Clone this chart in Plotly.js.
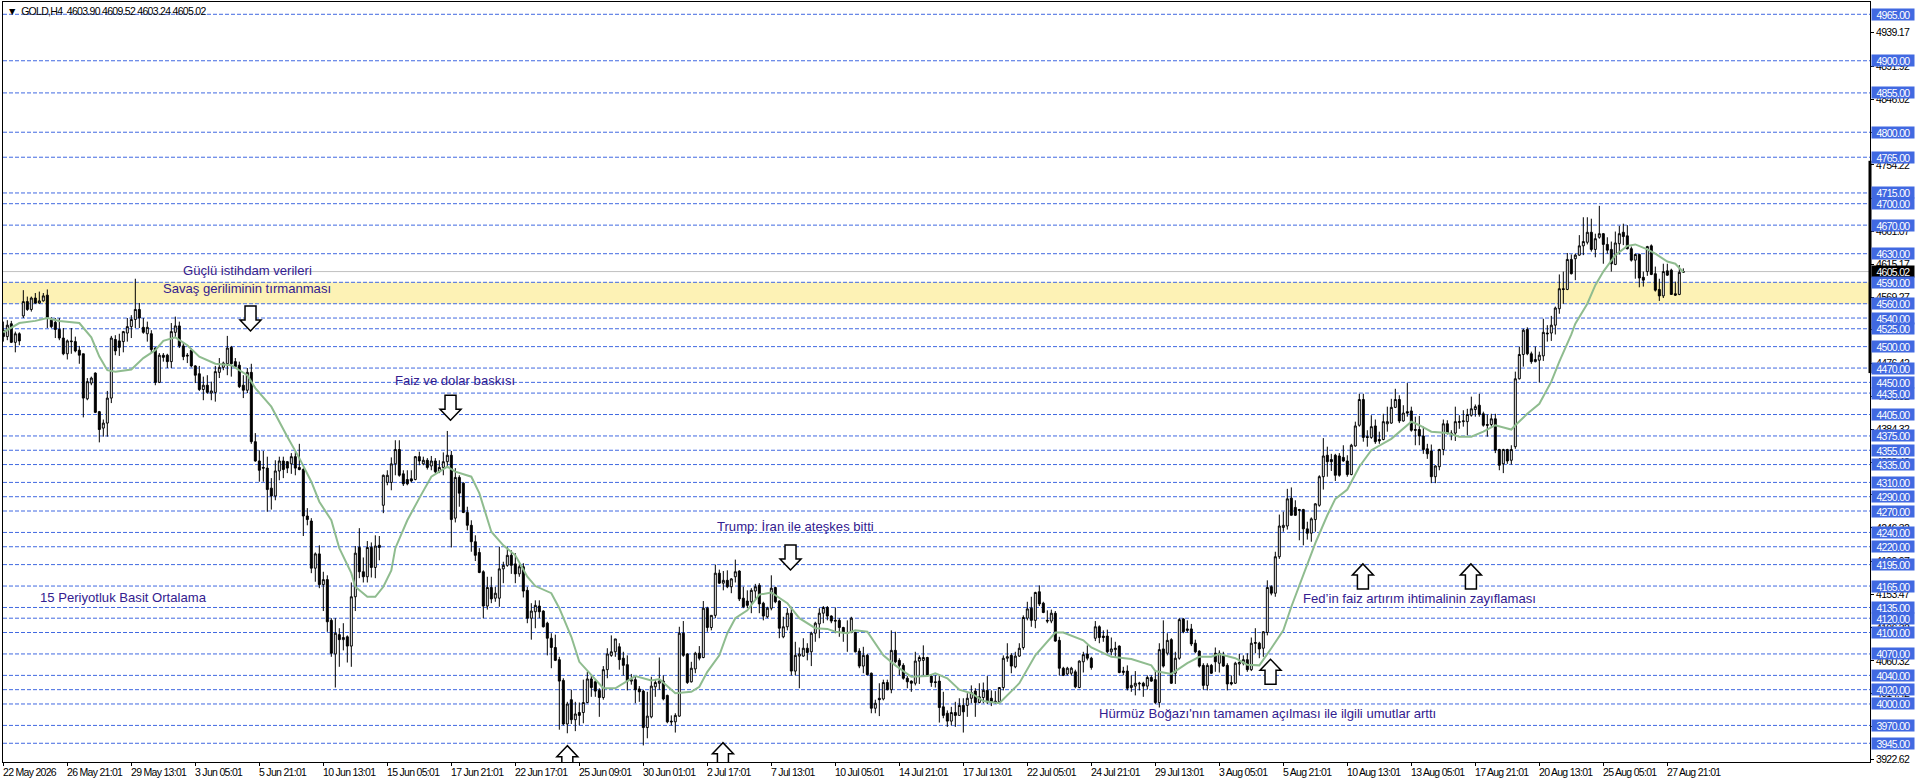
<!DOCTYPE html>
<html>
<head>
<meta charset="utf-8">
<script src="https://cdn.plot.ly/plotly-3.0.1.min.js"></script>
<style>
html,body{margin:0;padding:0;background:#fff;overflow:hidden}
/* the platform's axis font is narrow, squeeze ours to the same width */
#chart .ytick text, #chart .annotation-text{letter-spacing:-0.7px}
#chart .annotation[data-index="0"] .annotation-text,
#chart .annotation[data-index="1"] .annotation-text,
#chart .annotation[data-index="2"] .annotation-text,
#chart .annotation[data-index="3"] .annotation-text,
#chart .annotation[data-index="4"] .annotation-text,
#chart .annotation[data-index="5"] .annotation-text,
#chart .annotation[data-index="6"] .annotation-text{letter-spacing:0}
</style>
</head>
<body>
<div id="chart" style="width:1916px;height:783px"></div>
<script>
const opens = [
4523,4514,4532,4506,4518,4543,4563,4552,4568,4561,4564,4572,4537,4534,4524,4512,4490,4508,4507,4495,
4490,4427,4449,4463,4409,4386,4393,4428,4510,4508,4507,4519,4528,4538,4552,4527,4518,4518,4498,4450,
4488,4488,4479,4520,4529,4501,4488,4495,4473,4462,4440,4446,4435,4436,4464,4471,4476,4499,4479,4474,
4446,4439,4464,4367,4340,4331,4330,4302,4291,4326,4340,4339,4336,4346,4331,4328,4263,4256,4190,4210,
4167,4174,4117,4070,4097,4090,4094,4081,4150,4219,4185,4178,4219,4191,4222,4278,4310,4310,4336,4356,
4322,4314,4315,4314,4346,4336,4341,4333,4340,4325,4331,4339,4348,4260,4317,4309,4268,4250,4227,4212,
4185,4137,4163,4148,4148,4189,4194,4208,4196,4182,4192,4159,4120,4129,4137,4130,4113,4092,4079,4062,
4033,3972,4006,3978,3988,3988,4002,4035,4031,4019,4009,4048,4068,4073,4080,4064,4055,4032,4034,4021,
4018,3967,3982,4024,4029,4032,4012,3976,3975,3983,4099,4070,4031,4049,4071,4065,4134,4107,4124,4183,
4169,4173,4164,4178,4186,4148,4144,4143,4158,4166,4141,4122,4134,4163,4144,4094,4108,4127,4046,4067,
4067,4078,4073,4099,4112,4127,4135,4123,4117,4117,4107,4099,4100,4100,4074,4053,4068,4043,3994,4008,
4007,4030,4020,4075,4061,4054,4036,4032,4029,4060,4061,4065,4039,4031,4032,3996,3987,3976,3988,3984,
3998,3998,4008,4018,4002,4009,4019,4008,4004,4003,4023,4064,4068,4052,4067,4079,4120,4134,4117,4157,
4141,4117,4116,4127,4089,4050,4042,4043,4045,4023,4059,4070,4064,4092,4108,4095,4095,4073,4076,4081,
4044,4046,4023,4025,4028,4029,4025,4037,4034,4002,4077,4071,4090,4043,4064,4119,4105,4105,4085,4074,
4054,4026,4054,4071,4057,4067,4054,4030,4029,4056,4057,4062,4048,4086,4085,4078,4100,4164,4155,4206,
4247,4249,4288,4275,4272,4272,4245,4239,4258,4278,4318,4348,4342,4348,4347,4345,4340,4321,4361,4390,
4426,4374,4373,4389,4370,4370,4392,4393,4415,4426,4396,4409,4410,4384,4384,4375,4357,4354,4318,4332,
4356,4392,4379,4379,4394,4395,4395,4404,4412,4418,4406,4391,4391,4399,4356,4336,4356,4341,4360,4455,
4489,4524,4490,4479,4481,4487,4519,4519,4530,4553,4581,4580,4622,4623,4628,4641,4646,4660,4636,4653,
4658,4643,4636,4615,4644,4660,4655,4637,4621,4629,4597,4605,4641,4602,4580,4571,4606,4607,4574,4573,
4603.90];
const highs = [
4535,4537,4536,4521,4520,4579,4570,4570,4575,4577,4575,4580,4541,4540,4540,4526,4510,4526,4514,4501,
4490,4456,4458,4464,4410,4398,4438,4515,4516,4518,4522,4540,4544,4595,4561,4540,4535,4523,4499,4491,
4491,4490,4533,4542,4535,4505,4491,4498,4474,4473,4458,4460,4451,4473,4484,4479,4515,4501,4484,4479,
4460,4470,4476,4379,4355,4354,4346,4316,4341,4346,4346,4340,4351,4353,4364,4330,4274,4260,4212,4222,
4185,4180,4120,4120,4106,4113,4096,4170,4221,4246,4205,4228,4226,4236,4235,4321,4327,4345,4369,4369,
4327,4327,4327,4347,4353,4346,4344,4347,4344,4341,4352,4382,4354,4330,4320,4310,4276,4257,4236,4218,
4187,4178,4178,4164,4220,4199,4220,4215,4211,4196,4197,4164,4141,4145,4145,4131,4115,4099,4097,4066,
4036,4003,4020,4003,4002,4034,4045,4040,4034,4022,4053,4078,4096,4091,4085,4073,4068,4042,4039,4025,
4020,4017,4038,4034,4065,4040,4013,3984,3987,4108,4116,4071,4059,4073,4081,4144,4136,4124,4195,4188,
4186,4187,4176,4202,4187,4164,4159,4162,4168,4169,4143,4136,4180,4164,4145,4122,4134,4136,4087,4079,
4092,4085,4101,4115,4134,4137,4137,4124,4135,4120,4108,4117,4122,4101,4078,4080,4070,4044,4006,4029,
4034,4034,4103,4101,4064,4057,4039,4033,4073,4068,4082,4066,4040,4040,4040,4017,3991,3996,4003,4008,
4008,4015,4026,4022,4029,4030,4039,4019,4018,4023,4068,4085,4071,4073,4085,4124,4143,4150,4157,4166,
4143,4131,4132,4130,4094,4052,4052,4052,4048,4061,4073,4082,4066,4116,4110,4103,4104,4093,4087,4082,
4052,4054,4040,4046,4031,4031,4040,4040,4045,4085,4117,4099,4092,4073,4120,4120,4117,4112,4090,4075,
4057,4057,4056,4079,4075,4073,4057,4040,4059,4070,4068,4071,4093,4106,4087,4102,4173,4166,4213,4265,
4269,4301,4303,4285,4273,4273,4255,4261,4281,4320,4372,4360,4350,4350,4351,4362,4348,4364,4395,4434,
4434,4383,4404,4398,4381,4406,4416,4427,4441,4432,4418,4449,4416,4402,4403,4388,4364,4363,4334,4357,
4398,4397,4383,4416,4404,4411,4413,4430,4419,4434,4409,4405,4406,4406,4357,4357,4357,4362,4465,4500,
4525,4527,4493,4500,4493,4539,4530,4543,4556,4601,4605,4631,4629,4630,4656,4681,4681,4679,4658,4697,
4659,4653,4647,4661,4669,4672,4670,4640,4630,4630,4605,4641,4643,4612,4595,4616,4616,4609,4591,4614,
4609.52];
const lows = [
4507,4509,4505,4492,4502,4540,4550,4549,4560,4560,4563,4526,4526,4512,4509,4488,4482,4490,4492,4476,
4401,4425,4446,4407,4366,4374,4374,4421,4488,4487,4492,4507,4512,4526,4526,4518,4507,4491,4446,4449,
4479,4470,4470,4512,4498,4481,4477,4471,4449,4438,4425,4434,4425,4423,4456,4467,4460,4458,4471,4442,
4428,4435,4364,4339,4311,4311,4269,4272,4285,4313,4316,4323,4322,4320,4327,4235,4250,4183,4171,4162,
4130,4101,4066,4023,4052,4075,4058,4052,4130,4176,4170,4170,4177,4176,4201,4267,4306,4299,4320,4318,
4305,4306,4310,4313,4334,4334,4328,4327,4323,4323,4320,4330,4219,4254,4276,4267,4243,4213,4200,4183,
4120,4132,4141,4143,4136,4169,4192,4182,4169,4178,4149,4113,4090,4106,4120,4107,4068,4050,4060,3964,
3970,3959,3972,3962,3970,3973,4001,4010,4010,3982,4006,4036,4066,4066,4048,4040,4019,4027,4001,4003,
3942,3952,3980,4010,4020,4005,3973,3970,3960,3982,4066,4028,4030,4043,4061,4064,4101,4103,4120,4168,
4159,4162,4155,4170,4144,4134,4134,4127,4145,4127,4117,4120,4131,4141,4092,4092,4103,4040,4040,4022,
4066,4061,4053,4087,4092,4113,4117,4113,4099,4094,4087,4073,4099,4072,4050,4043,4040,3987,3987,3983,
4005,4019,4015,4057,4040,4034,4022,4017,4026,4028,4040,4038,4024,4023,3974,3980,3968,3970,3968,3984,
3960,3982,4001,3982,4001,4001,4000,3997,4000,4001,4019,4059,4043,4050,4066,4076,4117,4108,4106,4137,
4127,4113,4113,4087,4040,4039,4040,4040,4022,4022,4044,4061,4048,4088,4085,4087,4071,4068,4066,4043,
4040,4019,4017,4012,4019,4010,4020,4031,4000,3995,4051,4068,4028,4028,4062,4099,4100,4081,4071,4051,
4020,4019,4042,4045,4044,4052,4019,4026,4028,4040,4054,4045,4046,4071,4064,4066,4096,4152,4150,4203,
4241,4244,4264,4263,4229,4222,4230,4227,4241,4276,4300,4318,4326,4312,4318,4339,4318,4320,4360,4388,
4367,4360,4371,4364,4364,4369,4381,4392,4414,4393,4395,4402,4381,4362,4362,4350,4343,4309,4309,4327,
4348,4377,4369,4368,4385,4388,4376,4402,4402,4402,4388,4374,4388,4351,4327,4323,4336,4335,4357,4454,
4472,4488,4476,4478,4450,4480,4507,4508,4517,4546,4560,4579,4601,4593,4627,4628,4643,4633,4625,4651,
4616,4630,4605,4614,4629,4642,4636,4619,4595,4583,4584,4599,4600,4577,4564,4568,4599,4573,4571,4572,
4603.24];
const closes = [
4514,4530,4506,4518,4508,4563,4552,4568,4561,4564,4571,4541,4528,4524,4512,4490,4508,4507,4494,4488,
4428,4451,4456,4408,4384,4393,4428,4512,4494,4499,4521,4528,4538,4552,4540,4520,4527,4496,4450,4488,
4485,4479,4521,4529,4501,4486,4487,4473,4460,4440,4446,4436,4438,4465,4471,4477,4498,4476,4472,4444,
4439,4464,4367,4340,4327,4330,4300,4291,4326,4340,4328,4330,4346,4330,4328,4263,4258,4190,4210,4167,
4174,4115,4071,4099,4090,4093,4081,4150,4211,4185,4178,4219,4191,4221,4219,4320,4320,4336,4356,4320,
4308,4308,4312,4346,4340,4341,4331,4340,4325,4331,4339,4348,4258,4317,4295,4268,4250,4227,4208,4184,
4137,4163,4147,4155,4189,4194,4208,4194,4182,4192,4158,4120,4130,4138,4129,4108,4092,4079,4061,4032,
3972,4000,3978,3986,3984,4002,4035,4023,4018,4009,4048,4070,4073,4091,4062,4054,4032,4034,4020,4017,
3967,3983,4025,4030,4032,4007,3975,3975,3984,4099,4068,4030,4050,4071,4064,4134,4107,4124,4183,4169,
4173,4164,4175,4185,4147,4136,4138,4159,4164,4140,4123,4134,4162,4143,4106,4108,4127,4046,4068,4070,
4078,4072,4099,4113,4127,4135,4123,4116,4116,4107,4100,4100,4120,4073,4053,4068,4041,3994,4001,4006,
4030,4020,4075,4059,4054,4036,4031,4029,4060,4065,4065,4039,4030,4030,3995,3984,3976,3988,3984,3998,
3989,4008,4016,4002,4010,4019,4003,4003,4002,4023,4064,4066,4053,4067,4078,4121,4133,4117,4156,4140,
4128,4116,4127,4088,4050,4040,4050,4050,4024,4060,4069,4064,4051,4108,4093,4093,4073,4077,4078,4044,
4046,4022,4026,4029,4029,4025,4037,4032,4002,4076,4053,4089,4029,4064,4118,4101,4103,4084,4073,4053,
4026,4054,4043,4059,4071,4053,4028,4028,4057,4058,4062,4048,4085,4085,4077,4101,4163,4155,4206,4249,
4250,4287,4264,4264,4271,4245,4239,4259,4280,4318,4347,4339,4339,4320,4320,4340,4321,4362,4389,4426,
4373,4373,4388,4367,4368,4395,4395,4415,4426,4396,4407,4407,4383,4383,4375,4356,4350,4318,4333,4356,
4392,4379,4378,4395,4395,4396,4405,4413,4416,4405,4390,4390,4399,4355,4334,4356,4340,4356,4455,4489,
4523,4490,4479,4482,4488,4520,4518,4530,4554,4581,4580,4622,4602,4628,4641,4647,4660,4636,4651,4658,
4643,4635,4616,4645,4658,4654,4637,4621,4629,4596,4593,4640,4601,4579,4571,4605,4600,4573,4572,4604,
4605.02];

// 15 period simple average, every few bars
const maBars = [0,4,8,11,14,19,22,24,26,28,32,35,38,40,43,46,49,53,57,61,63,67,71,74,77,79,82,84,87,88,91,93,95,97,98,101,104,107,111,113,117,119,
122,125,128,131,133,137,139,142,144,147,150,153,158,162,164,168,172,174,176,179,181,183,186,189,192,196,199,203,206,208,211,213,216,220,223,227,231,233,236,239,
242,245,249,254,258,263,265,270,272,277,282,287,288,292,296,299,302,304,308,311,314,317,320,322,326,328,331,333,336,339,342,347,352,354,357,359,
361,364,367,370,373,377,378,381,384,387,389,392,393,396,398,400,403,406,408,411,413,416,418,420];
const maValues = [4520,4533,4536,4540,4536,4533,4513,4486,4467,4465,4468,4484,4495,4508,4513,4502,4486,4476,4474,4460,4442,4416,4374,4344,4311,4283,4257,4218,4183,4164,4150,4150,4164,4187,4218,4257,4288,4318,4332,4325,4318,4295,
4241,4222,4208,4178,4165,4155,4134,4094,4059,4040,4022,4022,4039,4033,4035,4015,4017,4024,4045,4068,4099,4120,4131,4153,4156,4141,4120,4106,4105,4101,4099,4103,4101,4068,4054,4038,4039,4043,4036,4020,
4015,4004,4001,4029,4068,4100,4100,4089,4079,4066,4063,4054,4046,4042,4057,4066,4066,4070,4064,4055,4054,4078,4103,4136,4196,4225,4264,4287,4300,4332,4355,4371,4395,4390,4381,4380,
4379,4374,4374,4381,4390,4384,4390,4406,4420,4451,4479,4517,4532,4560,4586,4605,4628,4641,4643,4636,4630,4619,4616,4604];

const levels = [4965,4900,4855,4800,4765,4715,4700,4670,4630,4590,4560,4540,4525,4500,4470,4450,4435,4405,4375,4355,4335,4310,4290,4270,4240,4220,4195,4165,4135,4120,4100,4070,4040,4020,4000,3970,3945];
const priceTicks = [4939.17,4891.92,4846.02,4800.12,4754.22,4707.27,4661.07,4615.17,4569.27,4523.37,4476.42,4430.52,4384.32,4338.42,4292.52,4246.32,4199.97,4153.47,4106.32,4060.32,4014.42,3968.52,3922.62];
const timeLabels = ['22 May 2026','26 May 21:01','29 May 13:01','3 Jun 05:01','5 Jun 21:01','10 Jun 13:01','15 Jun 05:01','17 Jun 21:01','22 Jun 17:01','25 Jun 09:01','30 Jun 01:01','2 Jul 17:01','7 Jul 13:01','10 Jul 05:01','14 Jul 21:01','17 Jul 13:01','22 Jul 05:01','24 Jul 21:01','29 Jul 13:01','3 Aug 05:01','5 Aug 21:01','10 Aug 13:01','13 Aug 05:01','17 Aug 21:01','20 Aug 13:01','25 Aug 05:01','27 Aug 21:01'];

const notes = [
  {text: 'Güçlü istihdam verileri', bar: 61, price: 4607},
  {text: 'Savaş geriliminin tırmanması', bar: 61, price: 4582},
  {text: 'Faiz ve dolar baskısı', bar: 113, price: 4452},
  {text: '15 Periyotluk Basit Ortalama', bar: 30, price: 4149},
  {text: 'Trump: İran ile ateşkes bitti', bar: 198, price: 4248},
  {text: "Hürmüz Boğazı'nın tamamen açılması ile ilgili umutlar arttı", bar: 316, price: 3986},
  {text: 'Fed’in faiz artırım ihtimalinin zayıflaması', bar: 354, price: 4147}
];
const downArrows = [[61.8, 4522], [111.8, 4397], [196.8, 4187.5]];
const upArrows = [[141, 3941.6], [179.9, 3945.8], [316.8, 4062.5], [339.9, 4196], [366.9, 4196]];

const lastPrice = 4605.02;
const bandLow = 4560, bandHigh = 4590;
const BLUE = '#4169e1';
const AXIS_FONT = '"Liberation Sans", Arial, sans-serif';

const bars = opens.map((_, i) => i);

const candles = {
  type: 'candlestick',
  x: bars, open: opens, high: highs, low: lows, close: closes,
  increasing: {line: {color: '#000', width: 1}, fillcolor: '#fff'},
  decreasing: {line: {color: '#000', width: 1}, fillcolor: '#000'},
  whiskerwidth: 0,
  hoverinfo: 'skip',
  showlegend: false
};
const average = {
  type: 'scatter', mode: 'lines',
  x: maBars, y: maValues,
  line: {color: '#8fbc8f', width: 2},
  hoverinfo: 'skip',
  showlegend: false
};

const arrowPath = (dir) => {
  // tip at the anchor, drawn in pixels, positive y runs up here
  const s = dir;
  return `M0,0 L-10.5,${11*s} L-5.5,${11*s} L-5.5,${25*s} L5.5,${25*s} L5.5,${11*s} L10.5,${11*s} Z`;
};

const shapes = [
  {type: 'rect', xref: 'paper', x0: 0, x1: 1, yref: 'y', y0: bandLow, y1: bandHigh, fillcolor: '#fdf2b5', line: {width: 0}, layer: 'below'},
  {type: 'line', xref: 'paper', x0: 0, x1: 1, yref: 'y', y0: lastPrice, y1: lastPrice, line: {color: '#c0c0c0', width: 1}, layer: 'below'},
  // thick piece of the scale line next to the price labels
  {type: 'line', xref: 'paper', x0: 1, x1: 1, yref: 'y', y0: 4463, y1: 4760, line: {color: '#000', width: 3}, layer: 'above'}
];
levels.forEach(p => shapes.push({type: 'line', xref: 'paper', x0: 0, x1: 1, yref: 'y', y0: p, y1: p, line: {color: BLUE, width: 1, dash: '4px,2px'}, layer: 'below'}));
const addArrows = (list, dir) => list.forEach(([b, p]) => shapes.push({
  type: 'path', xsizemode: 'pixel', ysizemode: 'pixel', xanchor: b, yanchor: p, xref: 'x', yref: 'y',
  path: arrowPath(dir), fillcolor: '#fff', line: {color: '#000', width: 1.5}, layer: 'above'
}));
addArrows(downArrows, 1);
addArrows(upArrows, -1);

const annotations = [];
notes.forEach(n => annotations.push({
  text: n.text, x: n.bar, y: n.price, xref: 'x', yref: 'y', xanchor: 'center', yanchor: 'middle', showarrow: false,
  font: {family: '"Liberation Sans", Arial, sans-serif', size: 13.1, color: '#33208f'}
}));
timeLabels.forEach((t, i) => annotations.push({
  text: t, x: i * 16, y: 0, xref: 'x', yref: 'paper', xanchor: 'left', yanchor: 'top', align: 'left', yshift: -2, xshift: -2, showarrow: false,
  font: {family: AXIS_FONT, size: 10.5, color: '#000'}
}));
const priceBox = (p, bg) => ({
  text: p.toFixed(2), x: 1, y: p, xref: 'paper', yref: 'y', xanchor: 'left', yanchor: 'middle', xshift: 1,
  showarrow: false, width: 40, height: 9, borderpad: 1, bgcolor: bg, align: 'center',
  font: {family: AXIS_FONT, size: 10.5, color: '#fff'}
});
annotations.push(priceBox(lastPrice, '#000'));
levels.forEach(p => annotations.push(priceBox(p, BLUE)));
annotations.push({
  text: '▼\u00a0\u00a0GOLD,H4\u00a0\u00a04603.90\u00a04609.52\u00a04603.24\u00a04605.02',
  x: 0, y: 1, xref: 'paper', yref: 'paper', xanchor: 'left', yanchor: 'top', align: 'left', xshift: 2, yshift: -1, showarrow: false,
  font: {family: AXIS_FONT, size: 10.5, color: '#000'}
});

const layout = {
  width: 1916, height: 783,
  margin: {l: 3, r: 46, t: 2, b: 21, pad: 0},
  paper_bgcolor: '#fff', plot_bgcolor: '#fff',
  showlegend: false,
  xaxis: {
    type: 'linear', range: [-0.08, 466.67], rangeslider: {visible: false},
    tickmode: 'array', tickvals: timeLabels.map((_, i) => i * 16), showticklabels: false,
    ticks: 'outside', ticklen: 3, tickcolor: '#000',
    showgrid: false, zeroline: false, showline: true, mirror: true, linecolor: '#000', linewidth: 1
  },
  yaxis: {
    type: 'linear', side: 'right', range: [3918.8, 4982.2],
    tickmode: 'array', tickvals: priceTicks, ticktext: priceTicks.map(v => v.toFixed(2)),
    ticks: 'outside', ticklen: 3, tickcolor: '#000',
    tickfont: {family: AXIS_FONT, size: 10.5, color: '#000'},
    showgrid: false, zeroline: false, showline: true, mirror: true, linecolor: '#000', linewidth: 1
  },
  shapes: shapes,
  annotations: annotations
};

Plotly.newPlot('chart', [candles, average], layout, {displayModeBar: false, staticPlot: true});
</script>
</body>
</html>
